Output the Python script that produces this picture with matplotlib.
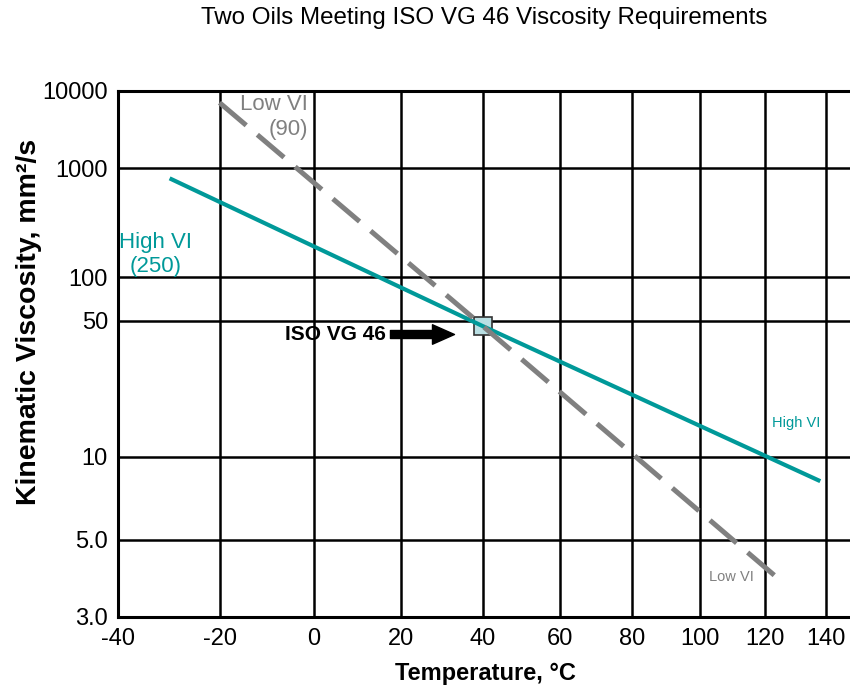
# Walther-type viscosity-temperature chart for two ISO VG 46 oils
import numpy as np
import matplotlib
matplotlib.use("Agg")
import matplotlib.pyplot as plt

plt.rcParams["font.family"] = ["Liberation Sans", "DejaVu Sans"]

# values (temperature in C, viscosity in mm2/s)
high_vi_temp = [-30, 40, 138]
high_vi_visc = [775, 46, 8.0]
low_vi_temp = [-20, 40, 123]
low_vi_visc = [6700, 46, 3.9]
iso_point_temp = [40]
iso_point_visc = [46]

x_ticks = [-40, -20, 0, 20, 40, 60, 80, 100, 120, 140]
y_ticks = [3, 5, 10, 50, 100, 1000, 10000]
y_tick_labels = ["3.0", "5.0", "10", "50", "100", "1000", "10000"]

teal = "#009999"
grey = "#808080"


# ASTM D341 style axes: log of absolute temperature, log-log of viscosity
def temp_fwd(t):
    with np.errstate(all="ignore"):
        return np.log10(np.asarray(t, dtype=float) + 273.15)

def temp_inv(u):
    return 10 ** np.asarray(u, dtype=float) - 273.15

def visc_fwd(v):
    with np.errstate(all="ignore"):
        return np.log10(np.log10(np.asarray(v, dtype=float) + 0.7))

def visc_inv(w):
    with np.errstate(all="ignore"):
        return 10 ** (10 ** np.asarray(w, dtype=float)) - 0.7


fig = plt.figure(figsize=(8.5, 6.86), dpi=100)
ax = fig.add_axes([117.6 / 850, 69.3 / 686, 738.3 / 850, 526 / 686])
ax.set_xscale("function", functions=(temp_fwd, temp_inv))
ax.set_yscale("function", functions=(visc_fwd, visc_inv))
ax.set_xlim(-40, 150)
ax.set_ylim(3, 10000)

ax.set_xticks(x_ticks)
ax.set_xticklabels([str(t) for t in x_ticks])
ax.set_yticks(y_ticks)
ax.set_yticklabels(y_tick_labels)
ax.minorticks_off()
ax.tick_params(axis="both", length=0, labelsize=17)
ax.tick_params(axis="x", pad=8)
ax.tick_params(axis="y", pad=7)

ax.grid(True, color="black", linewidth=1.8, zorder=0)
ax.set_axisbelow(True)
for side in ["left", "bottom", "top"]:
    ax.spines[side].set_linewidth(2.2)
ax.spines["right"].set_visible(False)

# the two oils
ax.plot(iso_point_temp, iso_point_visc, marker="s", markersize=13,
        markerfacecolor="#b9dfe3", markeredgecolor="#333333",
        markeredgewidth=1.2, linestyle="none", zorder=2)
ax.plot(high_vi_temp, high_vi_visc, color=teal, linewidth=3,
        solid_capstyle="butt", zorder=3)
ax.plot(low_vi_temp, low_vi_visc, color=grey, linewidth=3.6,
        dashes=(7, 2.91), dash_capstyle="butt", zorder=3)

# labels on the plot
ax.text(0.258, 0.950, "Low VI\n(90)", transform=ax.transAxes, color=grey,
        fontsize=16, ha="right", va="center", multialignment="right",
        linespacing=1.2)
ax.text(0.052, 0.689, "High VI\n(250)", transform=ax.transAxes, color=teal,
        fontsize=16, ha="center", va="center", multialignment="center",
        linespacing=1.2)
ax.text(0.8864, 0.368, "High VI", transform=ax.transAxes, color=teal,
        fontsize=10.5, ha="left", va="center")
ax.text(0.801, 0.0755, "Low VI", transform=ax.transAxes, color=grey,
        fontsize=10.5, ha="left", va="center")

ax.text(0.3635, 0.5365, "ISO VG 46", transform=ax.transAxes,
        fontsize=15, fontweight="bold", ha="right", va="center")
ax.annotate("", xy=(0.4563, 0.5365), xytext=(0.3696, 0.5365),
            xycoords="axes fraction", textcoords="axes fraction",
            arrowprops=dict(arrowstyle="simple,head_length=0.88,head_width=0.78,tail_width=0.32",
                            mutation_scale=18, color="black",
                            shrinkA=0, shrinkB=0))

ax.set_xlabel("Temperature, °C", fontsize=17, fontweight="bold")
ax.xaxis.set_label_coords(0.4976, -0.087)
ax.set_ylabel("Kinematic Viscosity, mm²/s", fontsize=20.5, fontweight="bold")
ax.yaxis.set_label_coords(-0.1024, 0.56)

fig.text(484 / 850, 1 - 18 / 686, "Two Oils Meeting ISO VG 46 Viscosity Requirements",
         fontsize=17.4, ha="center", va="center")

fig.savefig("out.png", dpi=100)
